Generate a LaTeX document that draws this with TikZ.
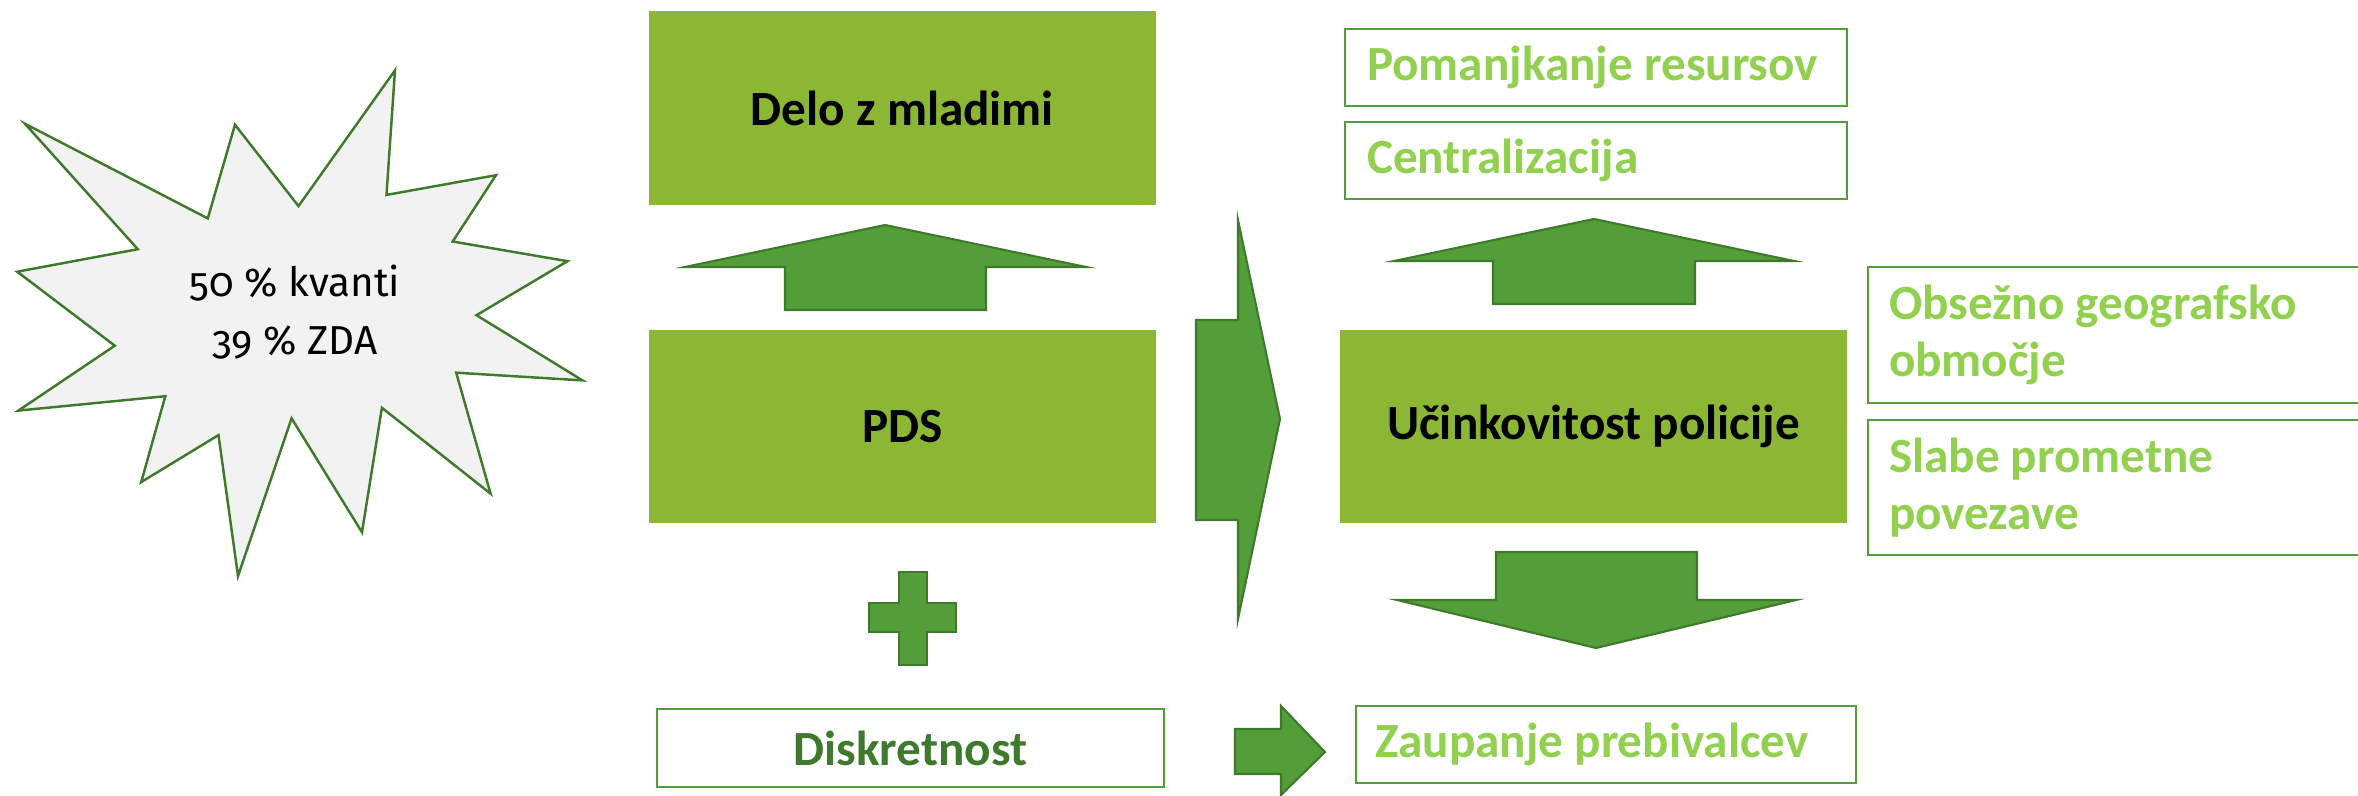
\documentclass[tikz,border=0pt]{standalone}
\usepackage{fontspec}
\setmainfont{Carlito}
\newfontfamily\burstfont[Numbers=OldStyle]{Fira Sans}
\usetikzlibrary{calc}
\definecolor{boxgreen}{RGB}{139,183,53}
\definecolor{arrowgreen}{RGB}{84,158,57}
\definecolor{edgegreen}{RGB}{63,122,43}
\definecolor{textgreen}{RGB}{146,208,80}
\definecolor{darkgreen}{RGB}{62,122,44}
\definecolor{burstgrey}{RGB}{242,242,242}
\tikzset{
  greenbox/.style={fill=boxgreen, draw=none, text=black, font=\bfseries\fontsize{14}{17}\selectfont},
  outlinebox/.style={draw=arrowgreen, line width=0.6pt, fill=white, text=textgreen, align=flush left, font=\bfseries\fontsize{14}{16.2}\selectfont},
  blockarrow/.style={fill=arrowgreen, draw=edgegreen, line width=0.6pt, line join=miter},
  burst/.style={fill=burstgrey, draw=edgegreen, line width=0.7pt, line join=miter},
}

\begin{document}
\begin{tikzpicture}[x=0.1mm, y=-0.1mm]
			%%%%% START %%%%%
			\useasboundingbox (0,0) rectangle (2358,796);
			\clip (0,0) rectangle (2358,796);
			
			% starburst
			\draw[burst] (24.9,123.7) -- (207.8,218.4) -- (235.0,124.7) -- (298.5,206.1)
				-- (395.0,70.3) -- (386.5,194.9) -- (496.0,175.2) -- (452.7,241.5)
				-- (567.5,261.2) -- (476.5,315.2) -- (582.5,380.4) -- (456.2,372.7)
				-- (490.6,493.7) -- (381.9,407.8) -- (362.0,532.3) -- (291.6,418.3)
				-- (238.0,576.1) -- (218.5,435.1) -- (141.2,482.1) -- (165.3,396.2)
				-- (18.4,410.6) -- (114.8,345.7) -- (17.2,271.7) -- (137.8,249.2) -- cycle;
			\node[align=center, font=\burstfont\fontsize{11.5}{16.5}\selectfont] (kvanti) at (295,312) {50 \% kvanti\\39 \% ZDA};
			
			% left column
			\node[greenbox, minimum width=5.07cm, minimum height=1.94cm] (mladi) at (902.5,108) {Delo z mladimi};
			\node[greenbox, minimum width=5.07cm, minimum height=1.93cm] (pds) at (902.5,426.5) {PDS};
			\draw[blockarrow] (885,225) -- (1086,267) -- (986,267) -- (986,310) -- (785,310) -- (785,267) -- (685,267) -- cycle;
			\draw[blockarrow] (899,572) -- (927,572) -- (927,603) -- (956,603) -- (956,632) -- (927,632)
				-- (927,665) -- (899,665) -- (899,632) -- (869,632) -- (869,603) -- (899,603) -- cycle;
			\node[outlinebox, text=darkgreen, align=center, minimum width=5.07cm, minimum height=0.78cm] (diskretnost) at (910.5,748) {Diskretnost};
			
			% arrows to the right
			\draw[blockarrow] (1196,320) -- (1238,320) -- (1238,220) -- (1280,419) -- (1238,619) -- (1238,520) -- (1196,520) -- cycle;
			\draw[blockarrow] (1235,729) -- (1281,729) -- (1281,706) -- (1325,752) -- (1281,795) -- (1281,774) -- (1235,774) -- cycle;
			
			% right column
			\node[outlinebox, text width=4.58cm, inner xsep=2.2mm, minimum height=0.77cm] (resursi) at (1596,67.5) {Pomanjkanje resursov};
			\node[outlinebox, text width=4.58cm, inner xsep=2.2mm, minimum height=0.77cm] (central) at (1596,160.5) {Centralizacija};
			\draw[blockarrow] (1594,219) -- (1794,261) -- (1695,261) -- (1695,304) -- (1493,304) -- (1493,261) -- (1394,261) -- cycle;
			\node[greenbox, minimum width=5.07cm, minimum height=1.93cm] (policija) at (1593.5,426.5) {Učinkovitost policije};
			\draw[blockarrow] (1496,552) -- (1697,552) -- (1697,600) -- (1796,600) -- (1596,648) -- (1397,600) -- (1496,600) -- cycle;
			\node[outlinebox, text width=4.62cm, inner xsep=1.9mm, minimum height=0.77cm] (zaupanje) at (1606,744.5) {Zaupanje prebivalcev};
			
			% far right
			\node[outlinebox, text width=4.9cm, inner xsep=2.1mm, minimum height=1.36cm] (obmocje) at (2134,335) {Obsežno geografsko\\območje};
			\node[outlinebox, text width=4.9cm, inner xsep=2.1mm, minimum height=1.35cm] (povezave) at (2134,487.5) {Slabe prometne\\povezave};
			
			%%%%% END %%%%%
\end{tikzpicture}
\end{document}
